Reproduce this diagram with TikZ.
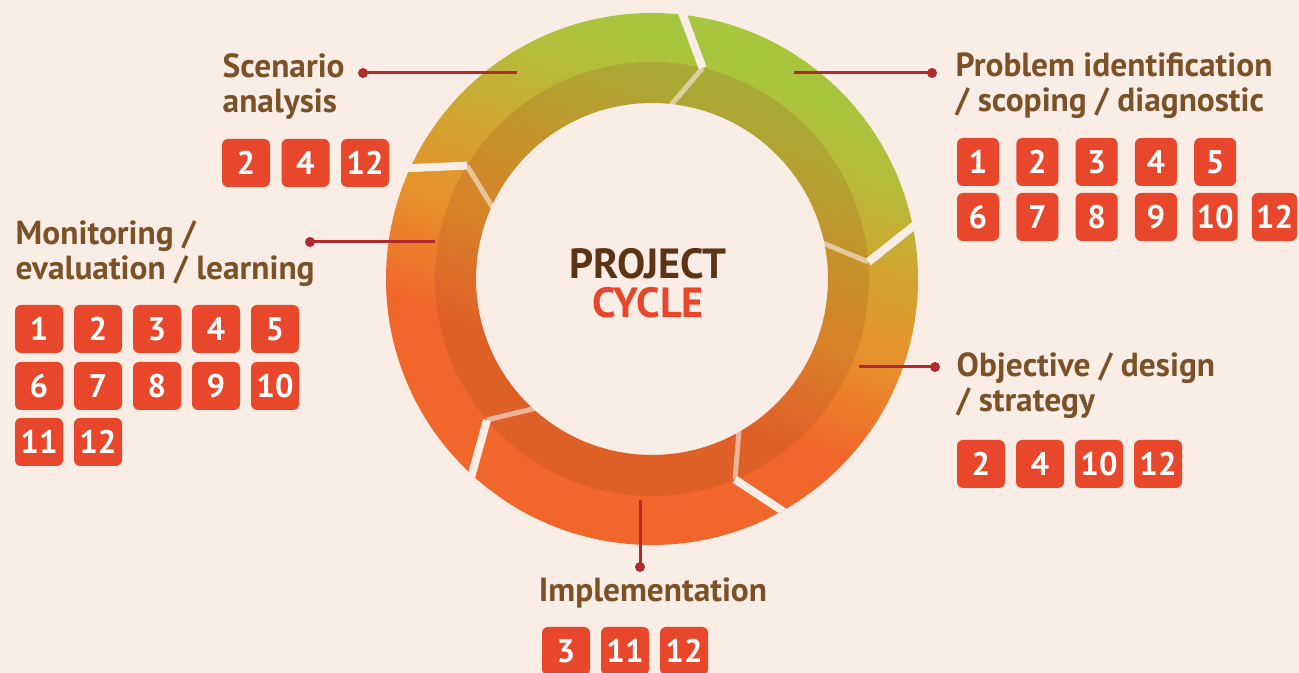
\documentclass[tikz,border=0pt]{standalone}
\usepackage{fontspec}
\setmainfont{PT Sans}

\definecolor{paper}{HTML}{F9EDE6}
\definecolor{labelbrown}{HTML}{7B5128}
\definecolor{titlebrown}{HTML}{5B3415}
\definecolor{cyclered}{HTML}{E8452B}
\definecolor{boxred}{HTML}{E8472B}
\definecolor{leaderred}{HTML}{B02A2E}
\definecolor{ringorange}{HTML}{F1662A}
\definecolor{ringmid}{HTML}{E8902C}
\definecolor{ringyellow}{HTML}{D2A42E}
\definecolor{ringolive}{HTML}{B9B939}
\definecolor{ringgreen}{HTML}{A7C63D}
\definecolor{ringshadow}{HTML}{9A4A1E}

\pgfdeclareverticalshading{ringshade}{100bp}{color(0bp)=(ringorange); color(40bp)=(ringorange); color(50bp)=(ringmid); color(58bp)=(ringyellow); color(65bp)=(ringolive); color(72bp)=(ringgreen); color(100bp)=(ringgreen)}

\tikzset{
  stage/.style={font=\fontsize{9.5}{10}\selectfont\bfseries, text=labelbrown, align=left, inner sep=0pt},
  numbox/.style={fill=boxred, rounded corners=0.06cm, text=white, font=\fontsize{9.3}{10}\selectfont\bfseries, minimum width=0.48cm, minimum height=0.48cm, inner sep=0.04cm},
  leader/.style={leaderred, line width=0.85pt},
  dot/.style={circle, fill=leaderred, inner sep=0pt, minimum size=0.1cm},
}

\begin{document}
\begin{tikzpicture}
        \useasboundingbox (0,0) rectangle (12.99,6.73);
        \fill[paper] (0,0) rectangle (12.99,6.73);

        % the ring
        \begin{scope}[shift={(6.52,3.94)}]
            \shade[shading=ringshade, shading angle=-20, even odd rule] (0,0) circle (2.66) (0,0) circle (1.76);
            \fill[ringshadow, opacity=.2, even odd rule] (0,0) circle (2.17) (0,0) circle (1.76);
            \foreach \a in {84,12,-60,-132,-204} {
                \draw[paper, line width=0.08cm] (\a:2.72) -- ({\a-7.5}:2.17);
                \draw[paper, opacity=.6, line width=0.05cm] ({\a-7.5}:2.17) -- (\a:1.74);
            }
            \node[font=\fontsize{12}{11.1}\selectfont\bfseries, align=center, inner sep=0pt, anchor=base] (title) at (-0.04,-0.39) {\textcolor{titlebrown}{PROJECT}\\\textcolor{cyclered}{CYCLE}};
        \end{scope}

        % stages
        \node[stage, anchor=base west] (scenario) at (2.22,5.60) {Scenario\\analysis};
        \node[stage, anchor=base west] (problem) at (9.55,5.61) {Problem identification\\/ scoping / diagnostic};
        \node[stage, anchor=base west] (monitoring) at (0.15,3.93) {Monitoring /\\evaluation / learning};
        \node[stage, anchor=base west] (objective) at (9.56,2.61) {Objective / design\\/ strategy};
        \node[stage, anchor=base] (implementation) at (6.53,0.71) {Implementation};

        % leaders
        \node[dot] (scenario-dot) at (3.63,6.00) {};
        \node[dot] (problem-dot) at (9.32,6.00) {};
        \node[dot] (monitoring-dot) at (3.10,4.31) {};
        \node[dot] (objective-dot) at (9.35,3.06) {};
        \node[dot] (implementation-dot) at (6.40,1.06) {};
        \coordinate (scenario-ring) at (5.17,6.00);
        \coordinate (problem-ring) at (7.94,6.00);
        \coordinate (monitoring-ring) at (4.35,4.31);
        \coordinate (objective-ring) at (8.59,3.06);
        \coordinate (implementation-ring) at (6.40,1.73);
        \draw[leader] (scenario-dot.center) -- (scenario-ring);
        \draw[leader] (problem-dot.center) -- (problem-ring);
        \draw[leader] (monitoring-dot.center) -- (monitoring-ring);
        \draw[leader] (objective-dot.center) -- (objective-ring);
        \draw[leader] (implementation-dot.center) -- (implementation-ring);

        % number boxes
        \foreach \n [count=\i] in {2,4,12}
            \node[numbox] (scenario-\i) at ({2.46+0.595*(\i-1)},5.10) {\n};
        \foreach \n [count=\i] in {1,2,3,4,5}
            \node[numbox, minimum width=0.42cm] (problem-\i) at ({9.78+0.593*(\i-1)},5.11) {\n};
        \foreach \n [count=\i] in {6,7,8,9,10,12}
            \node[numbox, minimum width=0.42cm] (problem-r\i) at ({9.78+0.593*(\i-1)},4.56) {\n};
        \foreach \n [count=\i] in {1,2,3,4,5}
            \node[numbox] (monitoring-\i) at ({0.39+0.59*(\i-1)},3.44) {\n};
        \foreach \n [count=\i] in {6,7,8,9,10}
            \node[numbox] (monitoring-r\i) at ({0.39+0.59*(\i-1)},2.87) {\n};
        \foreach \n [count=\i] in {11,12}
            \node[numbox] (monitoring-s\i) at ({0.39+0.59*(\i-1)},2.31) {\n};
        \foreach \n [count=\i] in {2,4,10,12}
            \node[numbox] (objective-\i) at ({9.81+0.59*(\i-1)},2.09) {\n};
        \foreach \n [count=\i] in {3,11,12}
            \node[numbox] (implementation-\i) at ({5.66+0.59*(\i-1)},0.22) {\n};
\end{tikzpicture}
\end{document}
